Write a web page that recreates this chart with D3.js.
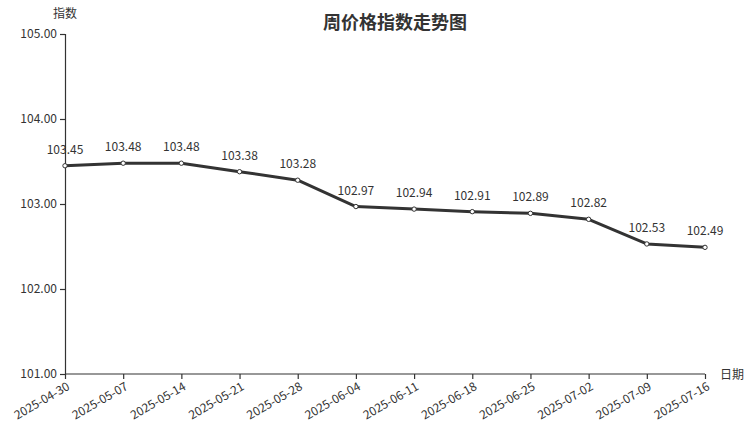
<!DOCTYPE html>
<html><head><meta charset="utf-8">
<script src="https://cdn.jsdelivr.net/npm/d3@7"></script>
<style>
body{margin:0;background:#fff;}
text{font-family:"Noto Sans CJK SC","Noto Sans",sans-serif;}
</style></head>
<body><svg id="c" width="749" height="424"></svg>
<script>
const dates = ["2025-04-30","2025-05-07","2025-05-14","2025-05-21","2025-05-28","2025-06-04","2025-06-11","2025-06-18","2025-06-25","2025-07-02","2025-07-09","2025-07-16"];
const values = [103.45,103.48,103.48,103.38,103.28,102.97,102.94,102.91,102.89,102.82,102.53,102.49];
const yTicks = [101,102,103,104,105];

const svg = d3.select("#c");
const m = {l:65, r:44, t:34, b:50};
const W = 749, H = 424;
const x = d3.scalePoint().domain(dates).range([m.l, W - m.r]);
const y = d3.scaleLinear().domain([101,105]).range([H - m.b, m.t]);
const col = "#333";

svg.append("text").attr("x",395).attr("y",29).attr("text-anchor","middle")
  .attr("font-size",18).attr("font-weight","bold").attr("fill",col).text("周价格指数走势图");

const gy = svg.append("g").attr("transform",`translate(${m.l},0)`)
  .call(d3.axisLeft(y).tickValues(yTicks).tickFormat(d3.format(".2f")).tickSize(5).tickPadding(3));
const gx = svg.append("g").attr("transform",`translate(0,${H-m.b})`)
  .call(d3.axisBottom(x).tickSize(5).tickSizeOuter(0));
[gy,gx].forEach(g=>{
  g.selectAll("path,line").attr("stroke",col).attr("stroke-width",1.2);
  g.selectAll("text").attr("fill",col).attr("font-size",12).attr("font-family",'"Noto Sans CJK SC","Noto Sans",sans-serif');
});
gx.select(".domain").attr("d",`M${m.l},0H${W-m.r}`);
gx.selectAll("text").attr("text-anchor","end").attr("dy",0).attr("dx",0)
  .attr("transform","translate(1,8) rotate(-30)");

svg.append("text").attr("x",53).attr("y",18).attr("font-size",12).attr("fill",col).text("指数");
svg.append("text").attr("x",720).attr("y",379).attr("font-size",12).attr("fill",col).text("日期");

const line = d3.line().x((d,i)=>x(dates[i])).y(d=>y(d));
svg.append("path").datum(values).attr("d",line).attr("fill","none")
  .attr("stroke",col).attr("stroke-width",3).attr("stroke-linejoin","round");
svg.selectAll("circle.p").data(values).join("circle")
  .attr("cx",(d,i)=>x(dates[i])).attr("cy",d=>y(d)).attr("r",2.2)
  .attr("fill","#fff").attr("stroke",col).attr("stroke-width",1);
svg.selectAll("text.v").data(values).join("text").attr("class","v")
  .attr("x",(d,i)=>x(dates[i])).attr("y",d=>y(d)-12).attr("text-anchor","middle")
  .attr("font-size",12).attr("fill",col).text(d=>d.toFixed(2));
</script></body></html>
